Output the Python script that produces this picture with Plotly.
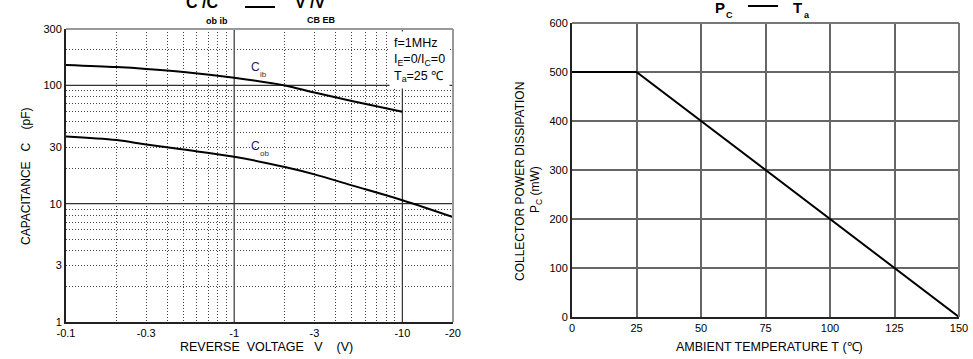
import plotly.graph_objects as go

W, H = 973, 359

# ---- data: capacitance vs reverse voltage (|V|, log scale) ----
v_cib = [0.1, 0.2, 0.3, 0.5, 1, 2, 3, 5, 10]
c_ib = [149, 143, 138, 130, 116, 100, 87, 74, 60]
v_cob = [0.1, 0.2, 0.3, 0.5, 1, 2, 3, 5, 10, 20]
c_ob = [37, 34.5, 31.6, 28.7, 25, 20.4, 17.7, 14.3, 10.7, 7.7]

x_tickvals = [0.1, 0.3, 1, 3, 10, 20]
x_ticktext = ["-0.1", "-0.3", "-1", "-3", "-10", "-20"]
y_tickvals = [1, 3, 10, 30, 100, 300]
y_ticktext = ["1", "3", "10", "30", "100", "300"]
x_minor = [0.2, 0.3, 0.4, 0.5, 0.6, 0.7, 0.8, 0.9, 2, 3, 4, 5, 6, 7, 8, 9]
y_minor = [2, 3, 4, 5, 6, 7, 8, 9, 20, 30, 40, 50, 60, 70, 80, 90, 200]
x_major_grid = [1, 10]
y_major_grid = [10, 100]

# ---- data: power dissipation vs ambient temperature ----
t_amb = [0, 25, 150]
p_c = [500, 500, 0]


def px(x):
    return x / W


def py(y):
    return 1 - y / H


FONT = "Liberation Sans, Arial, sans-serif"

fig = go.Figure()
fig.add_trace(go.Scatter(x=v_cib, y=c_ib, mode="lines", line=dict(color="black", width=2, shape="spline"),
                         xaxis="x", yaxis="y", showlegend=False))
fig.add_trace(go.Scatter(x=v_cob, y=c_ob, mode="lines", line=dict(color="black", width=2, shape="spline"),
                         xaxis="x", yaxis="y", showlegend=False))
fig.add_trace(go.Scatter(x=t_amb, y=p_c, mode="lines", line=dict(color="black", width=2),
                         xaxis="x2", yaxis="y2", showlegend=False))

dot = "1px,2px"
fig.update_layout(
    width=W, height=H, margin=dict(l=0, r=0, t=0, b=0, autoexpand=False),
    paper_bgcolor="white", plot_bgcolor="white",
    font=dict(family=FONT, color="black", size=11),
    xaxis=dict(type="log", domain=[px(66), px(453)], range=[-1, 1.30103], automargin=False,
               tickmode="array", tickvals=x_tickvals, ticktext=x_ticktext,
               showgrid=False, zeroline=False, ticks="", ticklen=0,
               showline=True, linecolor="#222", linewidth=2,
               tickfont=dict(size=11, family=FONT),
               minor=dict(tickmode="array", tickvals=x_minor, showgrid=True,
                          gridcolor="#444", gridwidth=1, griddash=dot, ticks="")),
    yaxis=dict(type="log", domain=[py(322), py(29)], range=[0, 2.4771], automargin=False,
               tickmode="array", tickvals=y_tickvals, ticktext=y_ticktext,
               showgrid=False, zeroline=False, ticks="",
               showline=True, linecolor="#222", linewidth=2,
               tickfont=dict(size=11, family=FONT),
               minor=dict(tickmode="array", tickvals=y_minor, showgrid=True,
                          gridcolor="#444", gridwidth=1, griddash=dot, ticks="")),
    xaxis2=dict(domain=[px(572), px(959)], range=[0, 150], anchor="y2", automargin=False,
                tickmode="linear", tick0=0, dtick=25,
                showgrid=True, gridcolor="#666", gridwidth=1.5, zeroline=False, ticks="",
                showline=True, linecolor="#222", linewidth=2,
                tickfont=dict(size=11, family=FONT)),
    yaxis2=dict(domain=[py(317), py(23)], range=[0, 600], anchor="x2", automargin=False,
                tickmode="linear", tick0=0, dtick=100,
                showgrid=True, gridcolor="#666", gridwidth=1.5, zeroline=False, ticks="",
                showline=True, linecolor="#222", linewidth=2,
                tickfont=dict(size=11, family=FONT)),
)

shapes = []
for xv in x_major_grid:
    shapes.append(dict(type="line", xref="x", yref="y domain", x0=xv, x1=xv, y0=0, y1=1,
                       line=dict(color="#333", width=1.2), layer="below"))
for yv in y_major_grid:
    shapes.append(dict(type="line", xref="x domain", yref="y", x0=0, x1=1, y0=yv, y1=yv,
                       line=dict(color="#333", width=1.2), layer="below"))
# top/right border lines (grey)
shapes.append(dict(type="line", xref="x domain", yref="y domain", x0=0, x1=1, y0=1, y1=1,
                   line=dict(color="#999", width=2)))
shapes.append(dict(type="line", xref="x domain", yref="y domain", x0=1, x1=1, y0=0, y1=1,
                   line=dict(color="#999", width=2)))
shapes.append(dict(type="line", xref="x2 domain", yref="y2 domain", x0=0, x1=1, y0=1, y1=1,
                   line=dict(color="#777", width=2)))
shapes.append(dict(type="line", xref="x2 domain", yref="y2 domain", x0=1, x1=1, y0=0, y1=1,
                   line=dict(color="#777", width=2)))
# title dashes
shapes.append(dict(type="line", xref="paper", yref="paper", x0=px(245), x1=px(275), y0=py(7), y1=py(7),
                   line=dict(color="black", width=2)))
shapes.append(dict(type="line", xref="paper", yref="paper", x0=px(748), x1=px(778), y0=py(6), y1=py(6),
                   line=dict(color="black", width=2)))
fig.update_layout(shapes=shapes)

NB = "\u00a0"
ann = []


def add(text, x, y, size=12, xanchor="center", yanchor="middle", angle=0, bold=False, color="black", **kw):
    t = f"<b>{text}</b>" if bold else text
    ann.append(dict(text=t, x=px(x), y=py(y), xref="paper", yref="paper", showarrow=False,
                    xanchor=xanchor, yanchor=yanchor, textangle=angle,
                    font=dict(size=size, family=FONT, color=color), **kw))


# left title (top cut off, as in the reference)
add("C" + NB + "/C", 202, 3, size=16, bold=True)
add("ob" + NB + "ib", 217, 21, size=9, bold=True)
add("V" + NB + "/V", 310, 3, size=16, bold=True)
add("CB" + NB + "EB", 321, 20, size=9, bold=True)
# right title
add("P", 720, 7, size=15, bold=True)
add("C", 729, 15, size=9, bold=True)
add("T", 797, 7, size=15, bold=True)
add("a", 807, 15, size=9, bold=True)

# curve labels
add("C", 255, 67, size=12, color="#1a1a66")
add("ib", 263, 74, size=8, color="#333")
add("C", 255, 146, size=12, color="#1a1a66")
add("ob", 264, 153, size=8, color="#333")

# conditions box
ann.append(dict(text="f=1MHz<br>I<sub>E</sub>=0/I<sub>C</sub>=0<br>T<sub>a</sub>=25 ℃",
                x=px(389), y=py(31), xref="paper", yref="paper", showarrow=False,
                xanchor="left", yanchor="top", align="left", bgcolor="white", borderpad=4,
                font=dict(size=12.5, family=FONT, color="black")))

# axis titles
add("REVERSE" + NB * 2 + "VOLTAGE" + NB * 3 + "V" + NB * 4 + "(V)", 266, 347, size=12.5)
add("CAPACITANCE" + NB * 3 + "C" + NB * 4 + "(pF)", 26, 176, size=12, angle=-90)
add("AMBIENT TEMPERATURE T" + NB + "(℃)", 769, 347, size=12.5)
add("COLLECTOR POWER DISSIPATION", 520, 182, size=12, angle=-90)
add("P<sub>C</sub>" + NB + "(mW)", 536, 190, size=12, angle=-90)

fig.update_layout(annotations=ann)
fig.write_html("out.html", config={"displayModeBar": False},
               post_script="document.body.style.margin='0';document.body.style.overflow='hidden';")
